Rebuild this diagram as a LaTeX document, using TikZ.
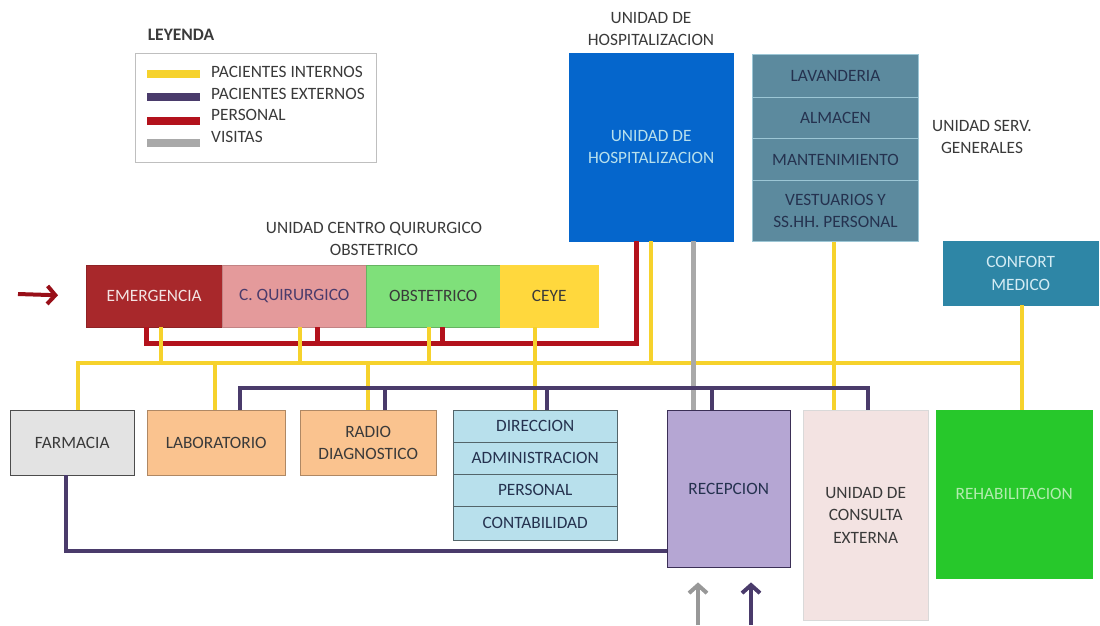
\documentclass[tikz,border=0pt]{standalone}
\usepackage{fontspec}
\setmainfont{Carlito}
\usetikzlibrary{arrows.meta}

% flow colours
\definecolor{cIn}{HTML}{F6D22C}
\definecolor{cOut}{HTML}{4A3B6B}
\definecolor{cPer}{HTML}{B3121C}
\definecolor{cVis}{HTML}{A9A9A9}
% unit colours
\definecolor{cEmer}{HTML}{A8282B}
\definecolor{cQuir}{HTML}{E49A9B}
\definecolor{cObst}{HTML}{7FE07A}
\definecolor{cCeye}{HTML}{FFD83D}
\definecolor{cHosp}{HTML}{0566CC}
\definecolor{cServ}{HTML}{5C8A9E}
\definecolor{cConf}{HTML}{2E86A6}
\definecolor{cFarm}{HTML}{E3E3E3}
\definecolor{cLab}{HTML}{FAC38F}
\definecolor{cDir}{HTML}{B8E0EC}
\definecolor{cRecep}{HTML}{B5A6D3}
\definecolor{cCons}{HTML}{F3E3E2}
\definecolor{cRehab}{HTML}{27C82B}
\definecolor{cTxt}{HTML}{3A3A3A}
\definecolor{cNavy}{HTML}{25324F}

\tikzset{
  unit/.style={draw, inner sep=0pt, anchor=north west, align=center, text=cNavy},
  caption/.style={align=center, text=cTxt},
  legtext/.style={anchor=west, text=cTxt, inner sep=0pt},
  inflow/.style={draw=cIn, line width=3.6pt},
  outflow/.style={draw=cOut, line width=3.6pt},
  staffflow/.style={draw=cPer, line width=5pt},
  visitflow/.style={draw=cVis, line width=5pt},
  swatch/.style={line width=7.5pt},
  entry/.style={line width=4pt, -{Straight Barb[length=8pt,width=18pt]}},
}

\begin{document}
\begin{tikzpicture}[x=1pt, y=-1pt, font=\fontsize{17.3}{22.5}\selectfont]
\useasboundingbox (0,0) rectangle (1100,625);

% ---------- legend ----------
\node[caption, font=\fontsize{17.5}{20}\selectfont\bfseries] (legtitle) at (181,35) {LEYENDA};
\draw[black!25, line width=0.6pt] (135,53) rectangle (376,162);
\draw[swatch, cIn]  (147,74)  -- (200,74);
\draw[swatch, cOut] (147,97)  -- (200,97);
\draw[swatch, cPer] (147,121) -- (200,121);
\draw[swatch, cVis] (147,143) -- (200,143);
\node[legtext] (l1) at (211,72)  {PACIENTES INTERNOS};
\node[legtext] (l2) at (211,94)  {PACIENTES EXTERNOS};
\node[legtext] (l3) at (211,115) {PERSONAL};
\node[legtext] (l4) at (211,137) {VISITAS};

% ---------- captions ----------
\node[caption] (capcq) at (374,239) {UNIDAD CENTRO QUIRURGICO\\OBSTETRICO};
\node[caption] (caphosp) at (651,29) {UNIDAD DE\\HOSPITALIZACION};
\node[caption] (capserv) at (982,137) {UNIDAD SERV.\\GENERALES};

% ---------- surgical / obstetric block ----------
\node[unit, fill=cEmer, draw=cEmer!85!black, text=cCons, minimum width=136, minimum height=62] (emerg) at (86,265) {EMERGENCIA};
\node[unit, fill=cQuir, draw=cQuir!85!black, text=cOut, minimum width=144, minimum height=62] (quir) at (222,265) {C. QUIRURGICO};
\node[unit, fill=cObst, draw=cObst!80!black, text=cTxt, minimum width=134, minimum height=62] (obst) at (366,265) {OBSTETRICO};
\node[unit, fill=cCeye, draw=cCeye, text=cTxt, minimum width=98, minimum height=62] (ceye) at (500,265) {CEYE};

% ---------- hospitalisation ----------
\node[unit, fill=cHosp, draw=cHosp, text=cDir, minimum width=164, minimum height=188] (hosp) at (569,53) {UNIDAD DE\\HOSPITALIZACION};

% ---------- general services ----------
\begin{scope}[every node/.style={unit, fill=cServ, draw=cDir!70!cServ, line width=1pt, minimum width=166}]
\node[minimum height=43] (lav)  at (752,54)  {LAVANDERIA};
\node[minimum height=41] (alm)  at (752,97)  {ALMACEN};
\node[minimum height=42] (mant) at (752,138) {MANTENIMIENTO};
\node[minimum height=61] (vest) at (752,180) {VESTUARIOS Y\\SS.HH. PERSONAL};
\end{scope}

\node[unit, fill=cConf, draw=cConf, text=cDir!60!white, minimum width=155, minimum height=64] (conf) at (943,241) {CONFORT\\MEDICO};

% ---------- lower row ----------
\node[unit, fill=cFarm, draw=black!70, text=cTxt, minimum width=124, minimum height=65] (farm) at (10,410) {FARMACIA};
\node[unit, fill=cLab, draw=cLab!70!black, text=cTxt, minimum width=138, minimum height=65] (lab) at (147,410) {LABORATORIO};
\node[unit, fill=cLab, draw=cLab!70!black, text=cTxt, minimum width=136, minimum height=65] (radio) at (300,410) {RADIO\\DIAGNOSTICO};

\begin{scope}[every node/.style={unit, fill=cDir, draw=cDir!45!black, minimum width=164}]
\node[minimum height=32] (dir)  at (453,410) {DIRECCION};
\node[minimum height=32] (adm)  at (453,442) {ADMINISTRACION};
\node[minimum height=32] (pers) at (453,474) {PERSONAL};
\node[minimum height=34] (cont) at (453,506) {CONTABILIDAD};
\end{scope}

\node[unit, fill=cRecep, draw=cOut!80!black, minimum width=123, minimum height=157] (recep) at (667,410) {RECEPCION};
\node[unit, fill=cCons, draw=black!15, text=cTxt, minimum width=125, minimum height=210] (cons) at (803,410) {UNIDAD DE\\CONSULTA\\EXTERNA};
\node[unit, fill=cRehab, draw=cRehab, text=cObst!60!white, minimum width=156, minimum height=168] (rehab) at (936,410) {REHABILITACION};

% ---------- bus positions ----------
\coordinate (ybus) at (0,363);
\coordinate (pbus) at (0,388);
\coordinate (rbus) at (0,343);
\coordinate (fbus) at (0,551);

\coordinate (xy1) at (78,0);
\coordinate (xy2) at (215,0);
\coordinate (xy3) at (368,0);
\coordinate (xy4) at (161,0);
\coordinate (xy5) at (300,0);
\coordinate (xy6) at (429,0);
\coordinate (xy7) at (535,0);
\coordinate (xy8) at (651,0);
\coordinate (xy9) at (834,0);
\coordinate (xy10) at (1022,0);

\coordinate (xp1) at (240,0);
\coordinate (xp2) at (385,0);
\coordinate (xp3) at (547,0);
\coordinate (xp4) at (712,0);
\coordinate (xp5) at (868,0);
\coordinate (xp6) at (66,0);

\coordinate (xr1) at (146,0);
\coordinate (xr2) at (317,0);
\coordinate (xr3) at (442,0);
\coordinate (xr4) at (636,0);

\coordinate (xg1) at (693,0);

% ---------- staff flow ----------
\draw[staffflow] (emerg.south -| xr1) |- (rbus -| xr4) -- (hosp.south -| xr4);
\draw[staffflow] (quir.south -| xr2) -- (rbus -| xr2);
\draw[staffflow] (obst.south -| xr3) -- (rbus -| xr3);

% ---------- inpatient flow ----------
\draw[inflow] (farm.north -| xy1) |- (ybus -| xy10) -- (conf.south -| xy10);
\draw[inflow] (conf.south -| xy10) -- (rehab.north -| xy10);
\draw[inflow] (ybus -| xy2) -- (lab.north -| xy2);
\draw[inflow] (ybus -| xy3) -- (radio.north -| xy3);
\draw[inflow] (emerg.south -| xy4) -- (ybus -| xy4);
\draw[inflow] (quir.south -| xy5) -- (ybus -| xy5);
\draw[inflow] (obst.south -| xy6) -- (ybus -| xy6);
\draw[inflow] (ceye.south -| xy7) -- (dir.north -| xy7);
\draw[inflow] (hosp.south -| xy8) -- (ybus -| xy8);
\draw[inflow] (vest.south -| xy9) -- (cons.north -| xy9);

% ---------- visitor flow ----------
\draw[visitflow] (hosp.south -| xg1) -- (recep.north -| xg1);

% ---------- outpatient flow ----------
\draw[outflow, line join=miter] (lab.north -| xp1) |- (pbus -| xp5) -- (cons.north -| xp5);
\draw[outflow] (pbus -| xp2) -- (radio.north -| xp2);
\draw[outflow] (pbus -| xp3) -- (dir.north -| xp3);
\draw[outflow] (pbus -| xp4) -- (recep.north -| xp4);
\draw[outflow, line join=miter] (farm.south -| xp6) |- (recep.west |- fbus);

% ---------- entrances ----------
\coordinate (inemerg) at (18,294);
\draw[entry, draw=cPer!85!black, shorten >=28pt] (inemerg) -- (emerg.west);
\coordinate (invis) at (698,625);
\coordinate (inout) at (751,625);
\draw[entry, draw=cVis!90!black, shorten >=15pt] (invis) -- (recep.south -| invis);
\draw[entry, draw=cOut, shorten >=15pt] (inout) -- (recep.south -| inout);

\end{tikzpicture}
\end{document}
